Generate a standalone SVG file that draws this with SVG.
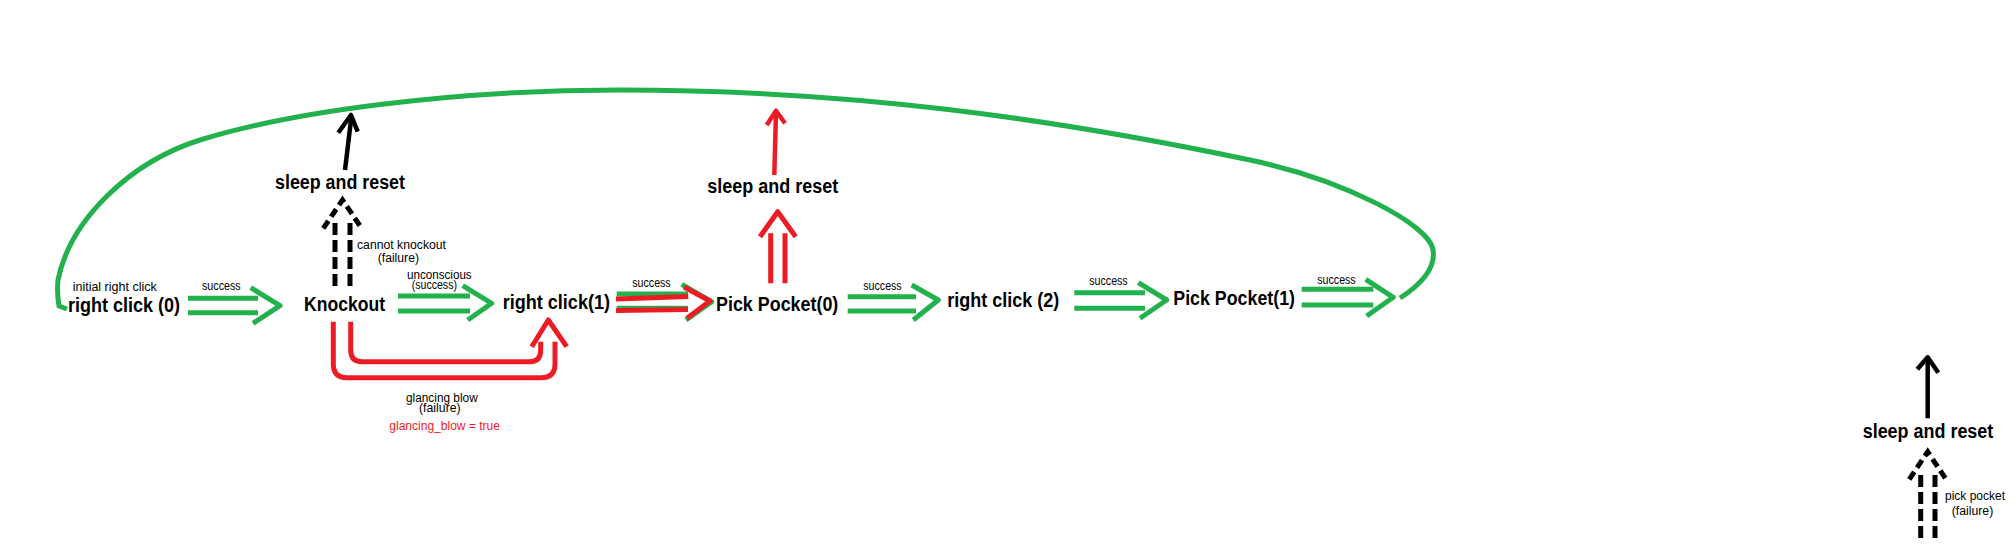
<svg xmlns="http://www.w3.org/2000/svg" width="2016" height="546" viewBox="0 0 2016 546">
<style>
.bg{fill:#ffffff}
.node{font-family:"Liberation Sans",Arial,sans-serif;font-weight:bold;font-size:20px;fill:#000}
.lbl{font-family:"Liberation Sans",Arial,sans-serif;font-size:12px;fill:#000}
.lblr{font-family:"Liberation Sans",Arial,sans-serif;font-size:12px;fill:#ed1c24}
.g{fill:none;stroke:#22b14c;stroke-width:5;stroke-linejoin:round}
.r{fill:none;stroke:#ed1c24;stroke-width:5;stroke-linejoin:round}
.k{fill:none;stroke:#000;stroke-width:4.5;stroke-linejoin:round}
.kd{fill:none;stroke:#000;stroke-width:5;stroke-dasharray:12 5}
.kdc{fill:none;stroke:#000;stroke-width:5;stroke-dasharray:9 5}
</style>
<rect class="bg" x="0" y="0" width="2016" height="546"/>
<g id="connectors">
  <!-- big green loop from Pick Pocket(1) back to right click (0) -->
  <path class="g" d="M1400,298 C1420,285 1436,268 1433,250 C1430,225 1345,180 1250,160 C1050,118 850,90 619,90 C450,90 290,112 200,140 C130,162 70,220 58,280 C57,290 58,300 59,306 L67,309"/>
  <!-- right click (0) -> Knockout -->
  <g id="e-rc0-ko">
    <path class="g" d="M188,298.3 H258 M188,312.7 H258"/>
    <path class="g" d="M250.7,287.7 L280,305.7 L253,323.3"/>
    <text class="lbl" x="202" y="290" textLength="38.7" lengthAdjust="spacingAndGlyphs">success</text>
    <text class="lbl" x="72.7" y="291" textLength="84" lengthAdjust="spacingAndGlyphs">initial right click</text>
  </g>
  <!-- Knockout -> sleep and reset (dashed) -->
  <g id="e-ko-sleep1">
    <path class="kd" d="M335,223 V287 M350,223 V287"/>
    <path class="kdc" d="M323.3,228.3 L342.5,200 L361.7,228.3"/>
    <text class="lbl" x="357" y="249.3" textLength="89" lengthAdjust="spacingAndGlyphs">cannot knockout</text>
    <text class="lbl" x="377.7" y="262" textLength="41.3" lengthAdjust="spacingAndGlyphs">(failure)</text>
  </g>
  <!-- sleep and reset -> loop (black) -->
  <g id="e-sleep1-up">
    <path class="k" d="M345,170 L351.5,116"/>
    <path class="k" d="M338.3,132.7 L351,115 L357.7,131.7"/>
  </g>
  <!-- Knockout -> right click(1) success -->
  <g id="e-ko-rc1">
    <path class="g" d="M398,296 H470 M398,311 H470"/>
    <path class="g" d="M462.7,285.7 L491.7,303.3 L467.7,320"/>
    <text class="lbl" x="407" y="279" textLength="64.7" lengthAdjust="spacingAndGlyphs">unconscious</text>
    <text class="lbl" x="411.7" y="289.3" textLength="45.3" lengthAdjust="spacingAndGlyphs">(success)</text>
  </g>
  <!-- Knockout -> right click(1) glancing blow -->
  <g id="e-ko-rc1-fail">
    <path class="r" d="M333.3,321.7 V364 Q333.3,377.7 347,377.7 H541 Q555,377.7 555,364 V341.7"/>
    <path class="r" d="M350.7,321.7 V350 Q350.7,361.7 362,361.7 H530 Q540.7,361.7 540.7,350 V341.7"/>
    <path class="r" d="M531.7,346.7 L548.3,320 L566.7,346.7"/>
    <text class="lbl" x="406" y="401.7" textLength="71.7" lengthAdjust="spacingAndGlyphs">glancing blow</text>
    <text class="lbl" x="419" y="412" textLength="41.7" lengthAdjust="spacingAndGlyphs">(failure)</text>
    <text class="lblr" x="389.3" y="430" textLength="110.7" lengthAdjust="spacingAndGlyphs">glancing_blow = true</text>
  </g>
  <!-- right click(1) -> Pick Pocket(0) -->
  <g id="e-rc1-pp0">
    <path class="g" d="M616.7,294 H688 M616.7,308.3 H688"/>
    <path class="g" d="M681.7,284.3 L711.7,301.7 L686,320"/>
    <path class="r" d="M616,299 L688.3,296.5 M616,310.5 L688,309.5"/>
    <path class="r" d="M684,287 L710,301 L687,318.3"/>
    <text class="lbl" x="632.3" y="287.3" textLength="38.4" lengthAdjust="spacingAndGlyphs">success</text>
  </g>
  <!-- Pick Pocket(0) -> sleep and reset (red) -->
  <g id="e-pp0-sleep2">
    <path class="r" d="M770.7,233.3 V283.3 M785,233.3 V283.3"/>
    <path class="r" d="M760,236.7 L777.7,211.7 L795.7,236.7"/>
  </g>
  <g id="e-sleep2-up">
    <path class="r" style="stroke-width:4.5" d="M774.3,175 L776,112"/>
    <path class="r" style="stroke-width:4.5" d="M766.7,125 L776,110.7 L785,123.3"/>
  </g>
  <!-- Pick Pocket(0) -> right click (2) -->
  <g id="e-pp0-rc2">
    <path class="g" d="M847.7,296.7 H916 M847.7,311 H916"/>
    <path class="g" d="M911.7,285 L938.3,300 L913.3,320"/>
    <text class="lbl" x="863.3" y="290" textLength="38.4" lengthAdjust="spacingAndGlyphs">success</text>
  </g>
  <!-- right click (2) -> Pick Pocket(1) -->
  <g id="e-rc2-pp1">
    <path class="g" d="M1074.3,292.7 H1145 M1074.3,308.3 H1145"/>
    <path class="g" d="M1138.3,282.7 L1166.7,300 L1140,318.3"/>
    <text class="lbl" x="1089.3" y="285" textLength="38.4" lengthAdjust="spacingAndGlyphs">success</text>
  </g>
  <!-- Pick Pocket(1) -> loop -->
  <g id="e-pp1-loop">
    <path class="g" d="M1301.7,289.3 H1373.3 M1301.7,305 H1373.3"/>
    <path class="g" d="M1365.7,279.3 L1393.3,297.3 L1366.7,316"/>
    <text class="lbl" x="1317.3" y="284.3" textLength="38.4" lengthAdjust="spacingAndGlyphs">success</text>
  </g>
  <!-- pick pocket failure -> sleep and reset (right) -->
  <g id="e-ppfail-sleep3">
    <path class="kd" d="M1920.7,475 V540 M1935,475 V540"/>
    <path class="kdc" d="M1909.3,479.3 L1927.7,451.7 L1946,479.3"/>
    <text class="lbl" x="1945" y="500" textLength="60" lengthAdjust="spacingAndGlyphs">pick pocket</text>
    <text class="lbl" x="1951.7" y="515" textLength="41.6" lengthAdjust="spacingAndGlyphs">(failure)</text>
  </g>
  <g id="e-sleep3-up">
    <path class="k" d="M1927.7,418.3 V359"/>
    <path class="k" d="M1917.3,369.3 L1927.7,357.3 L1938.3,372.7"/>
  </g>
</g>
<g id="n-rc0"><text class="node" x="68" y="312" textLength="112" lengthAdjust="spacingAndGlyphs">right click (0)</text></g>
<g id="n-knockout"><text class="node" x="304" y="311" textLength="81" lengthAdjust="spacingAndGlyphs">Knockout</text></g>
<g id="n-sleep1"><text class="node" x="275" y="189.3" textLength="130" lengthAdjust="spacingAndGlyphs">sleep and reset</text></g>
<g id="n-rc1"><text class="node" x="502.7" y="309.3" textLength="107.3" lengthAdjust="spacingAndGlyphs">right click(1)</text></g>
<g id="n-pp0"><text class="node" x="716" y="311" textLength="122.3" lengthAdjust="spacingAndGlyphs">Pick Pocket(0)</text></g>
<g id="n-sleep2"><text class="node" x="707.3" y="193.3" textLength="131" lengthAdjust="spacingAndGlyphs">sleep and reset</text></g>
<g id="n-rc2"><text class="node" x="947.3" y="306.7" textLength="112" lengthAdjust="spacingAndGlyphs">right click (2)</text></g>
<g id="n-pp1"><text class="node" x="1173.3" y="305" textLength="121.7" lengthAdjust="spacingAndGlyphs">Pick Pocket(1)</text></g>
<g id="n-sleep3"><text class="node" x="1862.7" y="438.3" textLength="130.6" lengthAdjust="spacingAndGlyphs">sleep and reset</text></g>
</svg>
